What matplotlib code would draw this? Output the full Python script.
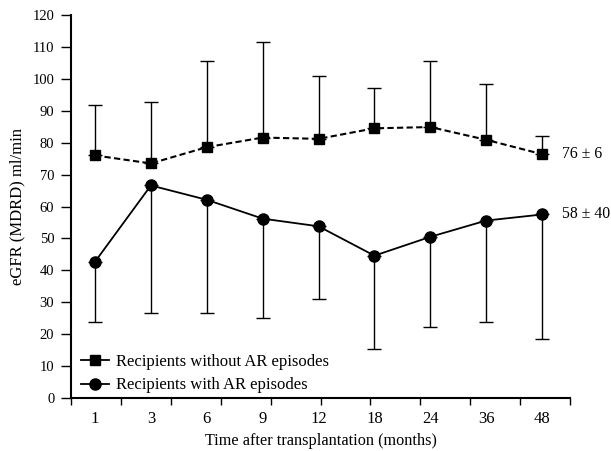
import numpy as np
import matplotlib
matplotlib.use("Agg")
import matplotlib.pyplot as plt
from matplotlib.lines import Line2D

plt.rcParams['font.family'] = ['Liberation Serif', 'DejaVu Serif']

months = ['1', '3', '6', '9', '12', '18', '24', '36', '48']
no_ar_mean = [76.0, 73.5, 78.6, 81.6, 81.2, 84.5, 84.9, 80.9, 76.4]
no_ar_upper = [91.7, 92.9, 105.7, 111.6, 100.8, 97.0, 105.7, 98.5, 82.1]
ar_mean = [42.7, 66.6, 62.1, 56.2, 53.8, 44.6, 50.5, 55.6, 57.5]
ar_lower = [23.7, 26.6, 26.6, 25.1, 31.0, 15.2, 22.2, 23.7, 18.5]

x = np.arange(len(months))

fig = plt.figure(figsize=(6.11, 4.51), dpi=100)
ax = fig.add_axes([0.1162, 0.1175, 0.8167, 0.8492])

up = np.array(no_ar_upper) - np.array(no_ar_mean)
lo = np.array(ar_mean) - np.array(ar_lower)

ax.errorbar(x, no_ar_mean, yerr=[np.zeros(len(x)), up], fmt='none',
            ecolor='black', elinewidth=1, capsize=5, capthick=1)
ax.errorbar(x, ar_mean, yerr=[lo, np.zeros(len(x))], fmt='none',
            ecolor='black', elinewidth=1, capsize=5, capthick=1)
ax.plot(x, no_ar_mean, color='black', linestyle=(0, (3, 1.6)), linewidth=1.5,
        marker='s', markersize=7)
ax.plot(x, ar_mean, color='black', linestyle='-', linewidth=1.3,
        marker='o', markersize=8)

ax.text(x[-1] + 0.35, no_ar_mean[-1], '76 ± 6', fontsize=11.3, va='center')
ax.text(x[-1] + 0.35, ar_mean[-1], '58 ± 40', fontsize=11.3, va='center')

ax.set_xlim(-0.43, 8.5)
ax.set_ylim(0, 120)
ax.set_yticks(np.arange(0, 121, 10))
ax.set_xticks(x)
ax.set_xticklabels(months)
ax.tick_params(axis='x', which='major', length=0, pad=9, labelsize=12)
ax.set_xticks(np.linspace(-0.43, 8.5, 11), minor=True)
ax.tick_params(axis='x', which='minor', length=5, width=1, direction='out')
ax.tick_params(axis='y', length=7.5, width=1, direction='out', pad=4.5, labelsize=10.5)

ax.spines['top'].set_visible(False)
ax.spines['right'].set_visible(False)
ax.spines['left'].set_linewidth(1.5)
ax.spines['bottom'].set_linewidth(1.5)

ax.set_ylabel('eGFR (MDRD) ml/min', fontsize=12, labelpad=5)
ax.set_xlabel('Time after transplantation (months)', fontsize=11.7, labelpad=5)

handles = [
    Line2D([], [], color='black', lw=1.3, marker='s', markersize=7),
    Line2D([], [], color='black', lw=1.3, marker='o', markersize=8),
]
labels = ['Recipients without AR episodes', 'Recipients with AR episodes']
ax.legend(handles, labels, loc='lower left', bbox_to_anchor=(0.02, 0.012),
          frameon=False, fontsize=12, handlelength=1.7, handletextpad=0.42,
          labelspacing=0.45, borderaxespad=0, borderpad=0)

fig.savefig('out.png', dpi=100)
